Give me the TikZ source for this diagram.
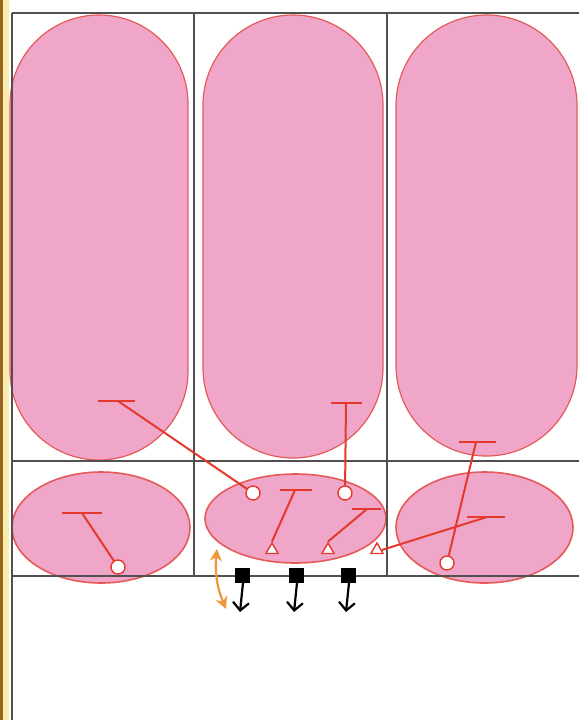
\documentclass[tikz,border=0pt]{standalone}
\usetikzlibrary{shapes.geometric,arrows.meta}
\definecolor{pinkfill}{RGB}{240,166,200}
\definecolor{rimred}{RGB}{228,90,88}
\definecolor{tred}{RGB}{228,58,45}
\definecolor{gridgray}{RGB}{80,80,80}
\definecolor{orng}{RGB}{240,150,55}
\definecolor{goldbar}{RGB}{150,100,30}
\definecolor{goldlight}{RGB}{250,236,175}
\tikzset{
  grid/.style={draw=gridgray, line width=0.8pt},
  stadium/.style={rectangle, draw=rimred, fill=pinkfill, line width=0.6pt, inner sep=0pt, outer sep=0pt},
  cell/.style={ellipse, draw=rimred, fill=pinkfill, line width=0.8pt, inner sep=0pt, outer sep=0pt},
  tline/.style={draw=tred, line width=1pt},
  knob/.style={circle, draw=tred, fill=white, line width=0.7pt, minimum size=7pt, inner sep=0pt},
  tri/.style={regular polygon, regular polygon sides=3, draw=tred, fill=white, line width=0.7pt, minimum size=7pt, inner sep=0pt},
  blk/.style={rectangle, fill=black, minimum size=7.5pt, inner sep=0pt},
  downarrow/.style={draw=black, line width=1.1pt, -{Straight Barb[length=4pt,width=8pt]}},
  dblarrow/.style={draw=orng, line width=1.1pt, {Stealth[length=6pt,width=6pt]}-{Stealth[length=6pt,width=6pt]}}
}
\begin{document}
\begin{tikzpicture}[x=0.5pt,y=-0.5pt]
\useasboundingbox (0,0) rectangle (579,720);
\fill[white] (0,0) rectangle (579,720);
\fill[goldbar] (0,0) rectangle (3,720);
\fill[goldlight] (3,0) rectangle (9,720);

% stadiums
\node[stadium, minimum width=89pt, minimum height=222.5pt, rounded corners=44.5pt] (s1) at (99,237.5) {};
\node[stadium, minimum width=90pt, minimum height=221.5pt, rounded corners=45pt] (s2) at (293,236.5) {};
\node[stadium, minimum width=90.5pt, minimum height=220.5pt, rounded corners=45.25pt] (s3) at (486.5,235.5) {};

% lower cells
\node[cell, minimum width=89pt, minimum height=55.5pt] (e1) at (101,527.5) {};
\node[cell, minimum width=90.5pt, minimum height=44.5pt] (e2) at (295.5,518.5) {};
\node[cell, minimum width=88.5pt, minimum height=55.5pt] (e3) at (484.5,527.5) {};

% grid
\draw[grid] (12,13) -- (579,13);
\draw[grid] (12,13) -- (12,720);
\draw[grid] (12,461) -- (579,461);
\draw[grid] (12,576) -- (579,576);
\draw[grid] (194,13) -- (194,576);
\draw[grid] (387,13) -- (387,576);

% T-bars
\coordinate (t1) at (118,401);
\coordinate (t2) at (346,403);
\coordinate (t3) at (476,442);
\coordinate (t4) at (82,513);
\coordinate (t5) at (295,490);
\coordinate (t6) at (367,509);
\coordinate (t7) at (487,517);
\draw[tline] (98,401) -- (135,401);
\draw[tline] (331,403) -- (362,403);
\draw[tline] (459,442) -- (496,442);
\draw[tline] (62,513) -- (102,513);
\draw[tline] (280,490) -- (312,490);
\draw[tline] (352,509) -- (381,509);
\draw[tline] (467,517) -- (505,517);

% ends
\node[knob] (c1) at (253,493) {};
\node[knob] (c2) at (345,493) {};
\node[knob] (c3) at (447,563) {};
\node[knob] (c4) at (118,567) {};
\node[tri] (r1) at (272,550) {};
\node[tri] (r2) at (328,550) {};
\node[tri] (r3) at (377,550) {};

\draw[tline] (t1) -- (c1);
\draw[tline] (t2) -- (c2);
\draw[tline] (t3) -- (c3);
\draw[tline] (t4) -- (c4);
\draw[tline] (t5) -- (r1.north);
\draw[tline] (t6) -- (r2.north);
\draw[tline] (t7) -- (r3.east);

% black squares and arrows
\node[blk] (q1) at (243,575) {};
\node[blk] (q2) at (297,575) {};
\node[blk] (q3) at (349,575) {};
\coordinate (a1) at (240,612);
\coordinate (a2) at (294,612);
\coordinate (a3) at (346,612);
\draw[downarrow] (q1.south) -- (a1);
\draw[downarrow] (q2.south) -- (a2);
\draw[downarrow] (q3.south) -- (a3);

% orange double arrow
\coordinate (o1) at (217,549);
\coordinate (o2) at (226,609);
\draw[dblarrow] (o1) to[bend right=14] (o2);
\end{tikzpicture}
\end{document}
